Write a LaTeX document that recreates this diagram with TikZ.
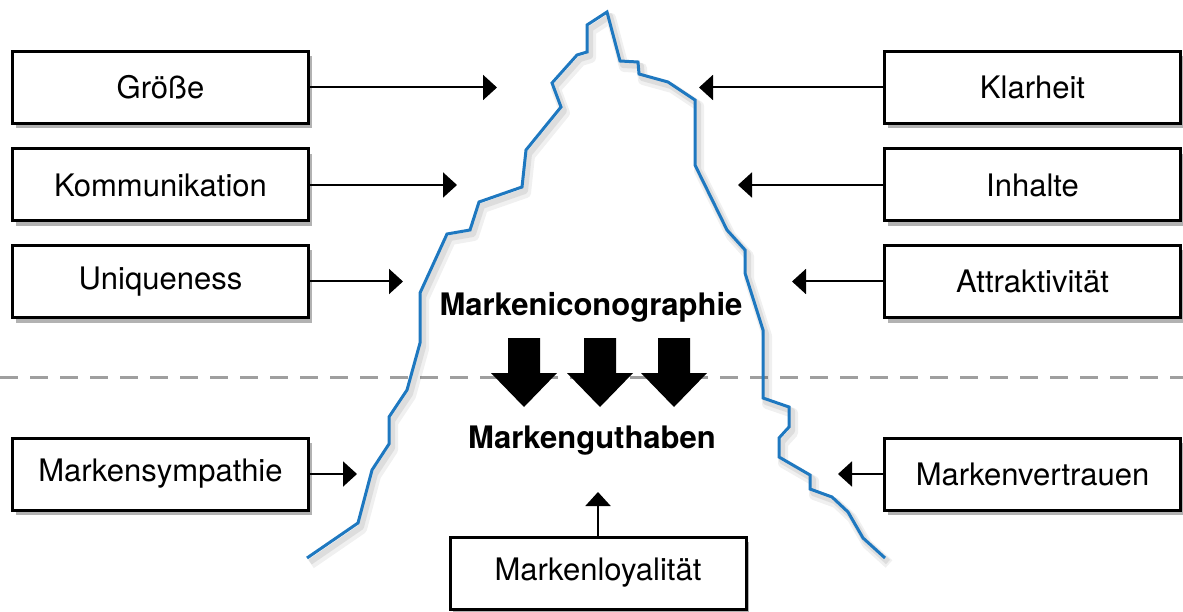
\documentclass[tikz,border=0pt]{standalone}
\usepackage{fontspec}
\setmainfont{TeX Gyre Heros}
\usetikzlibrary{arrows.meta,shadows}
\definecolor{mblue}{RGB}{30,120,192}
\newcommand\mtpath{(307,558) -- (358,523) -- (372,470) -- (389,444) -- (389,417) -- (407,390) -- (420,343) -- (420,293) -- (447,234) -- (470,230) -- (479,202) -- (522,187) -- (526,150) -- (561,107) -- (552,83) -- (577,55) -- (587,52) -- (587,25) -- (607,12) -- (620,61) -- (638,62) -- (639,74) -- (668,82) -- (695,100) -- (695,165) -- (727,230) -- (745,250) -- (745,273) -- (763,330) -- (763,398) -- (789,407) -- (789,427) -- (779,438) -- (779,457) -- (810,475) -- (810,489) -- (832,497) -- (848,512) -- (863,538) -- (885,558)}
\begin{document}
\begin{tikzpicture}[x=1pt,y=-1pt,
  box/.style={draw=black, line width=3pt, fill=white, minimum width=296pt, minimum height=72pt,
    inner sep=0pt, outer sep=0pt, font=\fontsize{31}{36}\selectfont,
    drop shadow={shadow xshift=3pt, shadow yshift=-5pt, opacity=0.3, fill=black}},
  conn/.style={line width=2pt, -{Triangle[length=14pt,width=25pt]}},
  big/.style={font=\fontsize{31}{36}\selectfont\bfseries, inner sep=0pt},
  bigarrow/.style={fill=black}]
\useasboundingbox (0,0) rectangle (1183,612);
% dashed divider
\draw[gray!75, line width=3pt, dash pattern=on 18pt off 12pt] (0,377) -- (1183,377);
% mountain shadow and outline
\draw[black, opacity=0.06, line width=10pt, line join=round, shift={(4,6)}] \mtpath;
\draw[black, opacity=0.08, line width=6pt, line join=round, shift={(3,4)}] \mtpath;
\draw[mblue, line width=3pt, line join=miter] \mtpath;
% boxes
\node[box] (g) at (160.5,87.5) {Größe};
\node[box] (k) at (160.5,185) {Kommunikation};
\node[box] (u) at (160.5,281.5) {Uniqueness};
\node[box] (s) at (160.5,474) {Markensympathie};
\node[box] (kl) at (1032.5,87.5) {Klarheit};
\node[box] (in) at (1032.5,185) {Inhalte};
\node[box] (at) at (1032.5,281.5) {Attraktivität};
\node[box] (v) at (1032.5,474) {Markenvertrauen};
\node[box] (l) at (598,573) {Markenloyalität};
% arrow ends
\coordinate (gT) at (497,87.5);
\coordinate (kT) at (457,185);
\coordinate (uT) at (403,281.5);
\coordinate (sT) at (357,474);
\coordinate (klT) at (699,87.5);
\coordinate (inT) at (738,185);
\coordinate (atT) at (792,281.5);
\coordinate (vT) at (838,474);
\coordinate (lT) at (598,492);
\draw[conn] (g.east) -- (gT);
\draw[conn] (k.east) -- (kT);
\draw[conn] (u.east) -- (uT);
\draw[conn] (s.east) -- (sT);
\draw[conn] (kl.west) -- (klT);
\draw[conn] (in.west) -- (inT);
\draw[conn] (at.west) -- (atT);
\draw[conn] (v.west) -- (vT);
\draw[conn] (l.north) -- (lT);
% center texts
\node[big] (mi) at (591,307) {Markeniconographie};
\node[big] (mg) at (592,441) {Markenguthaben};
% big arrows
\foreach \cx in {524,600,674}
  \fill[bigarrow] (\cx-16,338) -- (\cx+16,338) -- (\cx+16,373) -- (\cx+33,373) -- (\cx,407) -- (\cx-33,373) -- (\cx-16,373) -- cycle;
\end{tikzpicture}
\end{document}
